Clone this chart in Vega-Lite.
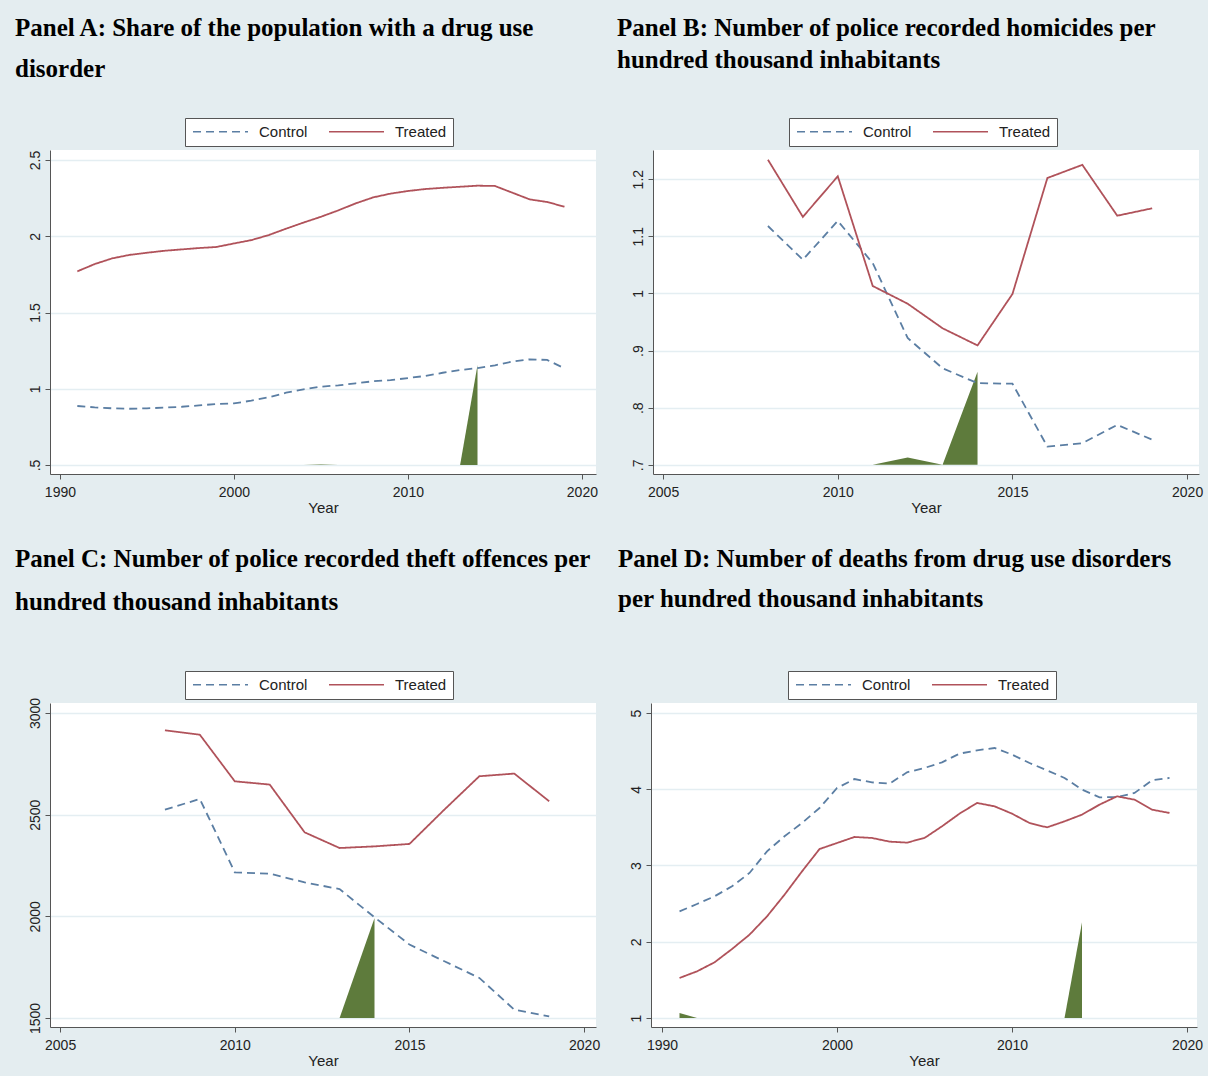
{
  "$schema": "https://vega.github.io/schema/vega-lite/v6.json",
  "background": "#e4edf0",
  "padding": {"left": 15, "top": 15, "right": 8, "bottom": 8},
  "datasets": {
    "a": [
      {"year":1991,"group":"Control","value":0.887},{"year":1992,"group":"Control","value":0.878},{"year":1993,"group":"Control","value":0.872},{"year":1994,"group":"Control","value":0.869},{"year":1995,"group":"Control","value":0.872},{"year":1996,"group":"Control","value":0.876},{"year":1997,"group":"Control","value":0.882},{"year":1998,"group":"Control","value":0.891},{"year":1999,"group":"Control","value":0.9},{"year":2000,"group":"Control","value":0.904},{"year":2001,"group":"Control","value":0.922},{"year":2002,"group":"Control","value":0.944},{"year":2003,"group":"Control","value":0.974},{"year":2004,"group":"Control","value":0.996},{"year":2005,"group":"Control","value":1.014},{"year":2006,"group":"Control","value":1.022},{"year":2007,"group":"Control","value":1.036},{"year":2008,"group":"Control","value":1.049},{"year":2009,"group":"Control","value":1.057},{"year":2010,"group":"Control","value":1.07},{"year":2011,"group":"Control","value":1.084},{"year":2012,"group":"Control","value":1.105},{"year":2013,"group":"Control","value":1.123},{"year":2014,"group":"Control","value":1.136},{"year":2015,"group":"Control","value":1.154},{"year":2016,"group":"Control","value":1.178},{"year":2017,"group":"Control","value":1.193},{"year":2018,"group":"Control","value":1.189},{"year":2019,"group":"Control","value":1.134},
      {"year":1991,"group":"Treated","value":1.77},{"year":1992,"group":"Treated","value":1.818},{"year":1993,"group":"Treated","value":1.855},{"year":1994,"group":"Treated","value":1.878},{"year":1995,"group":"Treated","value":1.892},{"year":1996,"group":"Treated","value":1.905},{"year":1997,"group":"Treated","value":1.914},{"year":1998,"group":"Treated","value":1.923},{"year":1999,"group":"Treated","value":1.93},{"year":2000,"group":"Treated","value":1.953},{"year":2001,"group":"Treated","value":1.975},{"year":2002,"group":"Treated","value":2.008},{"year":2003,"group":"Treated","value":2.05},{"year":2004,"group":"Treated","value":2.09},{"year":2005,"group":"Treated","value":2.128},{"year":2006,"group":"Treated","value":2.17},{"year":2007,"group":"Treated","value":2.216},{"year":2008,"group":"Treated","value":2.255},{"year":2009,"group":"Treated","value":2.28},{"year":2010,"group":"Treated","value":2.297},{"year":2011,"group":"Treated","value":2.31},{"year":2012,"group":"Treated","value":2.318},{"year":2013,"group":"Treated","value":2.325},{"year":2014,"group":"Treated","value":2.332},{"year":2015,"group":"Treated","value":2.33},{"year":2016,"group":"Treated","value":2.286},{"year":2017,"group":"Treated","value":2.242},{"year":2018,"group":"Treated","value":2.225},{"year":2019,"group":"Treated","value":2.194}
    ],
    "ag": [
      {"year":2004,"seg":1,"value":0.5},{"year":2005,"seg":1,"value":0.503},{"year":2006,"seg":1,"value":0.5},
      {"year":2013,"seg":2,"value":0.5},{"year":2014,"seg":2,"value":1.156}
    ],
    "b": [
      {"year":2008,"group":"Control","value":1.118},{"year":2009,"group":"Control","value":1.059},{"year":2010,"group":"Control","value":1.127},{"year":2011,"group":"Control","value":1.053},{"year":2012,"group":"Control","value":0.922},{"year":2013,"group":"Control","value":0.869},{"year":2014,"group":"Control","value":0.843},{"year":2015,"group":"Control","value":0.842},{"year":2016,"group":"Control","value":0.732},{"year":2017,"group":"Control","value":0.738},{"year":2018,"group":"Control","value":0.77},{"year":2019,"group":"Control","value":0.744},
      {"year":2008,"group":"Treated","value":1.234},{"year":2009,"group":"Treated","value":1.134},{"year":2010,"group":"Treated","value":1.205},{"year":2011,"group":"Treated","value":1.013},{"year":2012,"group":"Treated","value":0.982},{"year":2013,"group":"Treated","value":0.939},{"year":2014,"group":"Treated","value":0.909},{"year":2015,"group":"Treated","value":0.999},{"year":2016,"group":"Treated","value":1.202},{"year":2017,"group":"Treated","value":1.225},{"year":2018,"group":"Treated","value":1.136},{"year":2019,"group":"Treated","value":1.149}
    ],
    "bg": [
      {"year":2011,"seg":1,"value":0.7},{"year":2012,"seg":1,"value":0.713},{"year":2013,"seg":1,"value":0.7},{"year":2014,"seg":1,"value":0.863}
    ],
    "c": [
      {"year":2008,"group":"Control","value":2525},{"year":2009,"group":"Control","value":2577},{"year":2010,"group":"Control","value":2216},{"year":2011,"group":"Control","value":2210},{"year":2012,"group":"Control","value":2167},{"year":2013,"group":"Control","value":2134},{"year":2014,"group":"Control","value":1995},{"year":2015,"group":"Control","value":1861},{"year":2016,"group":"Control","value":1779},{"year":2017,"group":"Control","value":1697},{"year":2018,"group":"Control","value":1541},{"year":2019,"group":"Control","value":1508},
      {"year":2008,"group":"Treated","value":2915},{"year":2009,"group":"Treated","value":2893},{"year":2010,"group":"Treated","value":2664},{"year":2011,"group":"Treated","value":2648},{"year":2012,"group":"Treated","value":2413},{"year":2013,"group":"Treated","value":2336},{"year":2014,"group":"Treated","value":2344},{"year":2015,"group":"Treated","value":2356},{"year":2016,"group":"Treated","value":2525},{"year":2017,"group":"Treated","value":2689},{"year":2018,"group":"Treated","value":2702},{"year":2019,"group":"Treated","value":2566}
    ],
    "cg": [
      {"year":2013,"seg":1,"value":1500},{"year":2014,"seg":1,"value":1992}
    ],
    "d": [
      {"year":1991,"group":"Control","value":2.399},{"year":1992,"group":"Control","value":2.495},{"year":1993,"group":"Control","value":2.596},{"year":1994,"group":"Control","value":2.727},{"year":1995,"group":"Control","value":2.902},{"year":1996,"group":"Control","value":3.186},{"year":1997,"group":"Control","value":3.383},{"year":1998,"group":"Control","value":3.557},{"year":1999,"group":"Control","value":3.754},{"year":2000,"group":"Control","value":4.016},{"year":2001,"group":"Control","value":4.134},{"year":2002,"group":"Control","value":4.09},{"year":2003,"group":"Control","value":4.073},{"year":2004,"group":"Control","value":4.222},{"year":2005,"group":"Control","value":4.279},{"year":2006,"group":"Control","value":4.353},{"year":2007,"group":"Control","value":4.467},{"year":2008,"group":"Control","value":4.51},{"year":2009,"group":"Control","value":4.541},{"year":2010,"group":"Control","value":4.454},{"year":2011,"group":"Control","value":4.344},{"year":2012,"group":"Control","value":4.248},{"year":2013,"group":"Control","value":4.148},{"year":2014,"group":"Control","value":3.995},{"year":2015,"group":"Control","value":3.894},{"year":2016,"group":"Control","value":3.898},{"year":2017,"group":"Control","value":3.951},{"year":2018,"group":"Control","value":4.117},{"year":2019,"group":"Control","value":4.148},
      {"year":1991,"group":"Treated","value":1.525},{"year":1992,"group":"Treated","value":1.612},{"year":1993,"group":"Treated","value":1.73},{"year":1994,"group":"Treated","value":1.905},{"year":1995,"group":"Treated","value":2.093},{"year":1996,"group":"Treated","value":2.333},{"year":1997,"group":"Treated","value":2.617},{"year":1998,"group":"Treated","value":2.923},{"year":1999,"group":"Treated","value":3.216},{"year":2000,"group":"Treated","value":3.295},{"year":2001,"group":"Treated","value":3.374},{"year":2002,"group":"Treated","value":3.361},{"year":2003,"group":"Treated","value":3.313},{"year":2004,"group":"Treated","value":3.3},{"year":2005,"group":"Treated","value":3.361},{"year":2006,"group":"Treated","value":3.514},{"year":2007,"group":"Treated","value":3.68},{"year":2008,"group":"Treated","value":3.82},{"year":2009,"group":"Treated","value":3.776},{"year":2010,"group":"Treated","value":3.68},{"year":2011,"group":"Treated","value":3.557},{"year":2012,"group":"Treated","value":3.5},{"year":2013,"group":"Treated","value":3.579},{"year":2014,"group":"Treated","value":3.667},{"year":2015,"group":"Treated","value":3.798},{"year":2016,"group":"Treated","value":3.907},{"year":2017,"group":"Treated","value":3.863},{"year":2018,"group":"Treated","value":3.732},{"year":2019,"group":"Treated","value":3.689}
    ],
    "dg": [
      {"year":1991,"seg":1,"value":1.066},{"year":1992,"seg":1,"value":1.0},
      {"year":2013,"seg":2,"value":1.0},{"year":2014,"seg":2,"value":2.255}
    ]
  },
  "spacing": 31,
  "vconcat": [
    {
      "spacing": 19,
      "resolve": {"scale": {"color": "independent", "strokeDash": "independent"}, "legend": {"color": "independent", "strokeDash": "independent"}},
      "hconcat": [
        {
          "width": 546, "height": 324,
          "title": {"text": ["Panel A: Share of the population with a drug use", "disorder"], "lineHeight": 41, "dx": -35, "offset": 36},
          "layer": [
            {"data": {"name": "ag"}, "mark": {"type": "area", "color": "#5e7b3c", "opacity": 1},
             "encoding": {"x": {"field": "year", "type": "quantitative", "scale": {"domain": [1989.43, 2020.81], "nice": false, "zero": false}, "axis": {"values": [1990, 2000, 2010, 2020], "format": "d", "title": "Year"}},
                          "y": {"field": "value", "type": "quantitative", "scale": {"domain": [0.441, 2.566], "nice": false, "zero": false}, "axis": {"values": [0.5, 1, 1.5, 2, 2.5], "labelExpr": "replace(format(datum.value, '~g'), '0.', '.')"}},
                          "y2": {"datum": 0.5}, "detail": {"field": "seg"}}},
            {"data": {"name": "a"}, "mark": {"type": "line", "strokeWidth": 1.8},
             "encoding": {"x": {"field": "year", "type": "quantitative"}, "y": {"field": "value", "type": "quantitative"},
                          "color": {"field": "group", "type": "nominal", "scale": {"domain": ["Control", "Treated"], "range": ["#5b7ea3", "#b0525a"]}, "legend": {"legendX": 135, "legendY": -32}},
                          "strokeDash": {"field": "group", "type": "nominal", "scale": {"domain": ["Control", "Treated"], "range": [[8, 5], [1, 0]]}, "legend": {"legendX": 135, "legendY": -32}}}},
            {"mark": {"type": "rule", "color": "#ff2020", "strokeWidth": 1.6}, "encoding": {"x": {"datum": 2015}}}
          ]
        },
        {
          "width": 546, "height": 324,
          "title": {"text": ["Panel B: Number of police recorded homicides per", "hundred thousand inhabitants"], "lineHeight": 32, "dx": -36, "offset": 45},
          "layer": [
            {"data": {"name": "bg"}, "mark": {"type": "area", "color": "#5e7b3c", "opacity": 1},
             "encoding": {"x": {"field": "year", "type": "quantitative", "scale": {"domain": [2004.71, 2020.34], "nice": false, "zero": false}, "axis": {"values": [2005, 2010, 2015, 2020], "format": "d", "title": "Year"}},
                          "y": {"field": "value", "type": "quantitative", "scale": {"domain": [0.684, 1.251], "nice": false, "zero": false}, "axis": {"values": [0.7, 0.8, 0.9, 1, 1.1, 1.2], "labelExpr": "replace(format(datum.value, '~g'), '0.', '.')"}},
                          "y2": {"datum": 0.7}, "detail": {"field": "seg"}}},
            {"data": {"name": "b"}, "mark": {"type": "line", "strokeWidth": 1.8},
             "encoding": {"x": {"field": "year", "type": "quantitative"}, "y": {"field": "value", "type": "quantitative"},
                          "color": {"field": "group", "type": "nominal", "scale": {"domain": ["Control", "Treated"], "range": ["#5b7ea3", "#b0525a"]}, "legend": {"legendX": 136, "legendY": -32}},
                          "strokeDash": {"field": "group", "type": "nominal", "scale": {"domain": ["Control", "Treated"], "range": [[8, 5], [1, 0]]}, "legend": {"legendX": 136, "legendY": -32}}}},
            {"mark": {"type": "rule", "color": "#ff2020", "strokeWidth": 1.6}, "encoding": {"x": {"datum": 2015}}}
          ]
        }
      ]
    },
    {
      "spacing": 18,
      "resolve": {"scale": {"color": "independent", "strokeDash": "independent"}, "legend": {"color": "independent", "strokeDash": "independent"}},
      "hconcat": [
        {
          "width": 546, "height": 324,
          "title": {"text": ["Panel C: Number of police recorded theft offences per", "hundred thousand inhabitants"], "lineHeight": 43, "dx": -35, "offset": 56},
          "layer": [
            {"data": {"name": "cg"}, "mark": {"type": "area", "color": "#5e7b3c", "opacity": 1},
             "encoding": {"x": {"field": "year", "type": "quantitative", "scale": {"domain": [2004.71, 2020.34], "nice": false, "zero": false}, "axis": {"values": [2005, 2010, 2015, 2020], "format": "d", "title": "Year"}},
                          "y": {"field": "value", "type": "quantitative", "scale": {"domain": [1455.7, 3049.2], "nice": false, "zero": false}, "axis": {"values": [1500, 2000, 2500, 3000], "labelExpr": "format(datum.value, 'd')"}},
                          "y2": {"datum": 1500}, "detail": {"field": "seg"}}},
            {"data": {"name": "c"}, "mark": {"type": "line", "strokeWidth": 1.8},
             "encoding": {"x": {"field": "year", "type": "quantitative"}, "y": {"field": "value", "type": "quantitative"},
                          "color": {"field": "group", "type": "nominal", "scale": {"domain": ["Control", "Treated"], "range": ["#5b7ea3", "#b0525a"]}, "legend": {"legendX": 135, "legendY": -32}},
                          "strokeDash": {"field": "group", "type": "nominal", "scale": {"domain": ["Control", "Treated"], "range": [[8, 5], [1, 0]]}, "legend": {"legendX": 135, "legendY": -32}}}},
            {"mark": {"type": "rule", "color": "#ff2020", "strokeWidth": 1.6}, "encoding": {"x": {"datum": 2015}}}
          ]
        },
        {
          "width": 546, "height": 324,
          "title": {"text": ["Panel D: Number of deaths from drug use disorders", "per hundred thousand inhabitants"], "lineHeight": 40, "dx": -33, "offset": 59},
          "layer": [
            {"data": {"name": "dg"}, "mark": {"type": "area", "color": "#5e7b3c", "opacity": 1},
             "encoding": {"x": {"field": "year", "type": "quantitative", "scale": {"domain": [1989.37, 2020.57], "nice": false, "zero": false}, "axis": {"values": [1990, 2000, 2010, 2020], "format": "d", "title": "Year"}},
                          "y": {"field": "value", "type": "quantitative", "scale": {"domain": [0.882, 5.131], "nice": false, "zero": false}, "axis": {"values": [1, 2, 3, 4, 5], "labelExpr": "format(datum.value, 'd')"}},
                          "y2": {"datum": 1}, "detail": {"field": "seg"}}},
            {"data": {"name": "d"}, "mark": {"type": "line", "strokeWidth": 1.8},
             "encoding": {"x": {"field": "year", "type": "quantitative"}, "y": {"field": "value", "type": "quantitative"},
                          "color": {"field": "group", "type": "nominal", "scale": {"domain": ["Control", "Treated"], "range": ["#5b7ea3", "#b0525a"]}, "legend": {"legendX": 137, "legendY": -32}},
                          "strokeDash": {"field": "group", "type": "nominal", "scale": {"domain": ["Control", "Treated"], "range": [[8, 5], [1, 0]]}, "legend": {"legendX": 137, "legendY": -32}}}},
            {"mark": {"type": "rule", "color": "#ff2020", "strokeWidth": 1.6}, "encoding": {"x": {"datum": 2015}}}
          ]
        }
      ]
    }
  ],
  "resolve": {"scale": {"color": "independent", "strokeDash": "independent"}, "legend": {"color": "independent", "strokeDash": "independent"}},
  "config": {
    "view": {"fill": "white", "stroke": null},
    "title": {"font": "Liberation Serif", "fontSize": 25, "fontWeight": "bold", "anchor": "start", "color": "#000000", "frame": "group"},
    "axis": {"domainColor": "#555555", "tickColor": "#555555", "tickSize": 5, "labelFont": "Liberation Sans", "labelFontSize": 14, "labelColor": "#222222", "titleFont": "Liberation Sans", "titleFontSize": 15, "titleFontWeight": "normal", "titleColor": "#222222", "gridColor": "#e4eef2", "gridWidth": 1.5},
    "axisX": {"grid": false, "labelPadding": 6, "titlePadding": 1},
    "axisY": {"labelAngle": -90, "title": null, "labelPadding": 3},
    "legend": {"orient": "none", "direction": "horizontal", "title": null, "fillColor": "white", "strokeColor": "#555555", "padding": 6, "labelFont": "Liberation Sans", "labelFontSize": 15, "labelColor": "#222222", "symbolType": "M-1,0H9", "symbolSize": 121, "symbolStrokeWidth": 1.5, "labelOffset": 53, "columnPadding": 18}
  }
}
